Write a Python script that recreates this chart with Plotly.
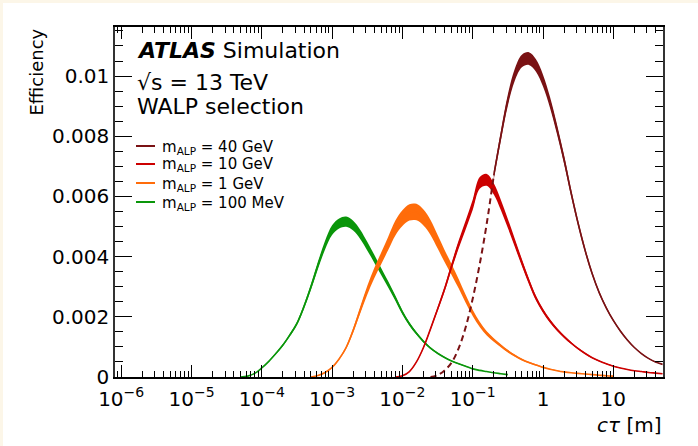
import numpy as np
import plotly.graph_objects as go

# Selection efficiency vs. ALP proper decay length (c*tau in metres).
# Histogram bins are spaced by 0.1 in log10(c*tau); each series lists its
# first bin centre and the efficiency in every bin from there on.
LOG_STEP = 0.1

series_names = ["m<sub>ALP</sub> = 40 GeV", "m<sub>ALP</sub> = 10 GeV",
                "m<sub>ALP</sub> = 1 GeV", "m<sub>ALP</sub> = 100 MeV"]

log_start_40gev = -1.6
eff_40gev = [0.00000, 0.00006, 0.00022, 0.00048, 0.00095, 0.00165, 0.00260,
             0.00375, 0.00510, 0.00670, 0.00800, 0.00920, 0.01005, 0.01050,
             0.01058, 0.01035, 0.00985, 0.00912, 0.00822, 0.00722, 0.00612,
             0.00510, 0.00420, 0.00343, 0.00280, 0.00230, 0.00188, 0.00153,
             0.00123, 0.00098, 0.00078, 0.00062, 0.00050, 0.00042]
# bins of the 40 GeV sample below this value are drawn dashed
log_dashed_end_40gev = -0.7

log_start_10gev = -2.1
eff_10gev = [0.00000, 0.00004, 0.00018, 0.00050, 0.00098, 0.00160, 0.00225,
             0.00292, 0.00368, 0.00440, 0.00505, 0.00572, 0.00645, 0.00655,
             0.00625, 0.00572, 0.00510, 0.00445, 0.00380, 0.00318, 0.00262,
             0.00220, 0.00186, 0.00158, 0.00134, 0.00113, 0.00094, 0.00078,
             0.00064, 0.00053, 0.00044, 0.00036, 0.00030, 0.00025, 0.00021,
             0.00018, 0.00015, 0.00013, 0.00011]

log_start_1gev = -3.3
eff_1gev = [0.00000, 0.00005, 0.00015, 0.00032, 0.00060, 0.00098, 0.00155,
            0.00222, 0.00288, 0.00345, 0.00395, 0.00445, 0.00495, 0.00528,
            0.00547, 0.00548, 0.00530, 0.00497, 0.00450, 0.00402, 0.00357,
            0.00310, 0.00260, 0.00213, 0.00175, 0.00145, 0.00123, 0.00104,
            0.00086, 0.00071, 0.00058, 0.00048, 0.00040, 0.00032, 0.00026,
            0.00021, 0.00017, 0.00014, 0.00012, 0.00010, 0.00008, 0.00006,
            0.00004, 0.00003]

log_start_100mev = -4.3
eff_100mev = [0.00000, 0.00003, 0.00012, 0.00030, 0.00052, 0.00078, 0.00106,
              0.00140, 0.00178, 0.00234, 0.00300, 0.00372, 0.00438, 0.00488,
              0.00510, 0.00516, 0.00503, 0.00474, 0.00435, 0.00393, 0.00350,
              0.00307, 0.00262, 0.00215, 0.00176, 0.00145, 0.00118, 0.00096,
              0.00079, 0.00065, 0.00053, 0.00044, 0.00036, 0.00027, 0.00022,
              0.00018, 0.00014, 0.00011, 0.00008]

# relative statistical uncertainty of each sample (drawn as a band)
stat_unc_frac = [0.02, 0.03, 0.05, 0.033]

x_tick_vals = [1e-6, 1e-5, 1e-4, 1e-3, 1e-2, 1e-1, 1, 10]
x_tick_text = ["10<sup>\u22126</sup>", "10<sup>\u22125</sup>", "10<sup>\u22124</sup>",
               "10<sup>\u22123</sup>", "10<sup>\u22122</sup>", "10<sup>\u22121</sup>",
               "1", "10"]
y_tick_vals = [0, 0.002, 0.004, 0.006, 0.008, 0.01]
y_tick_text = ["0", "0.002", "0.004", "0.006", "0.008", "0.01"]

colors = ["#7a1214", "#cc0000", "#ff6c0a", "#0a960a"]

FONT = "DejaVu Sans"
W, H = 698, 446
ML, MR, MT, MB = 115, 35, 27, 69
PW, PH = W - ML - MR, H - MT - MB


def px_x(px):
    return (px - ML) / PW


def px_y(py):
    return (H - MB - py) / PH


def bin_centres(log_start, values):
    return 10 ** (log_start + LOG_STEP * np.arange(len(values)))


fig = go.Figure()

samples = [(log_start_40gev, eff_40gev), (log_start_10gev, eff_10gev),
           (log_start_1gev, eff_1gev), (log_start_100mev, eff_100mev)]

# lightest sample first so the heavier ones sit on top
for idx in [3, 2, 1, 0]:
    log_start, eff = samples[idx]
    x = bin_centres(log_start, eff)
    y = np.array(eff)
    col = colors[idx]
    frac = stat_unc_frac[idx]
    if idx == 0:
        logx = np.log10(x)
        dashed = logx <= log_dashed_end_40gev + 1e-9
        solid = logx >= log_dashed_end_40gev - 1e-9
        fig.add_trace(go.Scatter(x=x[dashed], y=y[dashed], mode="lines",
                                 line=dict(color=col, width=2, dash="6px,4px", shape="spline"),
                                 showlegend=False, hoverinfo="skip"))
        x, y = x[solid], y[solid]
    fig.add_trace(go.Scatter(x=x, y=y * (1 - frac), mode="lines",
                             line=dict(color=col, width=0, shape="spline"),
                             showlegend=False, hoverinfo="skip"))
    fig.add_trace(go.Scatter(x=x, y=y * (1 + frac), mode="lines", fill="tonexty",
                             fillcolor=col, line=dict(color=col, width=0, shape="spline"),
                             showlegend=False, hoverinfo="skip"))
    fig.add_trace(go.Scatter(x=x, y=y, mode="lines", name=series_names[idx],
                             line=dict(color=col, width=1.6, shape="spline"),
                             showlegend=False))

annotations = []
# thin cream page strips along the top and left edges
CREAM = "#fcf6e8"
shapes = [dict(type="rect", xref="paper", yref="paper",
               x0=px_x(0), x1=px_x(W), y0=px_y(3), y1=px_y(0),
               fillcolor=CREAM, line=dict(width=0)),
          dict(type="rect", xref="paper", yref="paper",
               x0=px_x(0), x1=px_x(3), y0=px_y(H), y1=px_y(0),
               fillcolor=CREAM, line=dict(width=0))]

# experiment label block
label_lines = [("<b><i>ATLAS</i></b> Simulation", 50),
               ("\u221As = 13 TeV", 82),
               ("WALP selection", 107)]
for text, yc in label_lines:
    annotations.append(dict(text=text, xref="paper", yref="paper", x=px_x(135), y=px_y(yc),
                            xanchor="left", yanchor="middle", showarrow=False,
                            font=dict(family=FONT, size=22, color="black")))

# legend
legend_y = [146, 164, 183, 202]
for idx, yc in enumerate(legend_y):
    shapes.append(dict(type="line", xref="paper", yref="paper",
                       x0=px_x(136), x1=px_x(155), y0=px_y(yc), y1=px_y(yc),
                       line=dict(color=colors[idx], width=2)))
    annotations.append(dict(text=series_names[idx], xref="paper", yref="paper",
                            x=px_x(160), y=px_y(yc + 1), xanchor="left", yanchor="middle",
                            showarrow=False, font=dict(family=FONT, size=15, color="black")))

# axis titles
annotations.append(dict(text="<i>c\u03c4</i> [m]", xref="paper", yref="paper",
                        x=px_x(664), y=px_y(425), xanchor="right", yanchor="middle",
                        showarrow=False, font=dict(family=FONT, size=20, color="black")))
annotations.append(dict(text="Efficiency", xref="paper", yref="paper", textangle=-90,
                        x=px_x(36), y=px_y(27), xanchor="center", yanchor="top",
                        showarrow=False, font=dict(family=FONT, size=18, color="black")))

x_minor = [k * 10.0 ** n for n in range(-7, 2) for k in range(2, 10)]
y_minor = [i * 0.0005 for i in range(0, 24)]

fig.update_layout(
    width=W, height=H,
    margin=dict(l=ML, r=MR, t=MT, b=MB),
    paper_bgcolor="white", plot_bgcolor="white",
    showlegend=False,
    annotations=annotations, shapes=shapes,
    xaxis=dict(type="log", range=[-6.088, 1.707], tickmode="array",
               tickvals=x_tick_vals, ticktext=x_tick_text,
               ticks="inside", ticklen=12, tickwidth=1, tickcolor="black",
               ticklabelstandoff=3,
               showline=True, linecolor="black", linewidth=1.5, mirror="ticks",
               showgrid=False, zeroline=False,
               tickfont=dict(family=FONT, size=20, color="black"),
               minor=dict(tickmode="array", tickvals=x_minor, ticks="inside",
                          ticklen=6, tickwidth=1, tickcolor="black", showgrid=False)),
    yaxis=dict(range=[0, 0.01163], tickmode="array",
               tickvals=y_tick_vals, ticktext=y_tick_text,
               ticks="inside", ticklen=17, tickwidth=1, tickcolor="black",
               showline=True, linecolor="#333333", linewidth=1.5, mirror="ticks",
               showgrid=False, zeroline=False,
               tickfont=dict(family=FONT, size=20, color="black"),
               minor=dict(tickmode="array", tickvals=y_minor, ticks="inside",
                          ticklen=8, tickwidth=1, tickcolor="black", showgrid=False)),
)

fig.write_html("out.html")
